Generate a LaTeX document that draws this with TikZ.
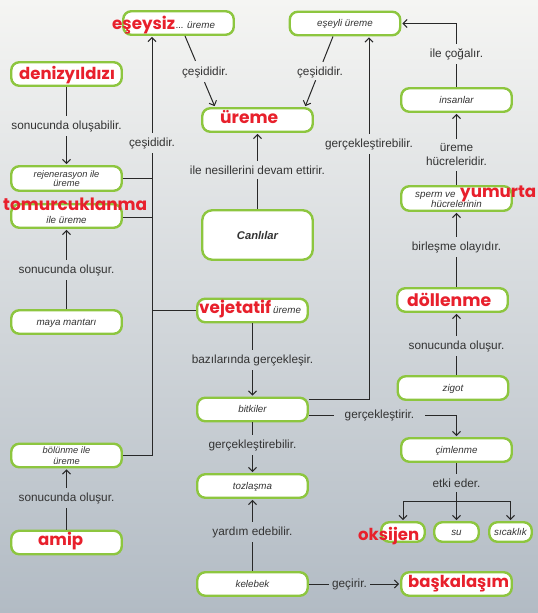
\documentclass[tikz,border=0pt]{standalone}
\usepackage{fontspec}
\setmainfont{Liberation Sans}
\newfontfamily\redfont{Poppins}
\usepackage{graphicx}
\usetikzlibrary{arrows.meta,calc}
\definecolor{boxg}{RGB}{141,198,63}
\definecolor{redc}{RGB}{232,32,44}
\definecolor{txt}{RGB}{51,51,51}
\definecolor{linec}{RGB}{40,40,40}
\definecolor{bgtop}{RGB}{245,245,243}
\definecolor{bgmid}{RGB}{214,218,213}
\definecolor{bgbot}{RGB}{178,187,196}
\newcommand\redw[2]{\resizebox{#1pt}{!}{\color{redc}\redfont\bfseries #2}}
\newcommand\dotblank[1]{\leaders\hbox to 2.5pt{\hss.\hss}\hskip #1pt\relax}
\newcommand\bxfont{\fontsize{9.8}{11}\selectfont\itshape}
\newcommand\lbfont{\fontsize{11.8}{14}\selectfont}
\tikzset{
 box/.style={draw=boxg, line width=2.4pt, fill=white, rounded corners=8pt, inner sep=0pt,
   minimum width=110.5pt, minimum height=23.5pt, font=\bxfont, text=txt},
 one/.style={text height=7pt, text depth=1pt},
 itx/.style={inner sep=0pt, font=\bxfont, text=txt},
 lbl/.style={font=\lbfont, text=txt, inner xsep=2pt, inner ysep=4.5pt},
 redt/.style={anchor=base west, inner sep=0pt},
 con/.style={draw=linec, line width=1pt},
 arr/.style={con, -{Straight Barb[length=4pt,width=8pt]}, shorten >=1pt}
}
\begin{document}
\begin{tikzpicture}[x=1pt,y=-1pt]
\shade[top color=bgtop, middle color=bgmid, bottom color=bgbot] (0,0) rectangle (538,613);
\useasboundingbox (0,0) rectangle (538,613);

% boxes
\node[box] (eseysiz) at (178.5,23) {};
\node[box,one] (eseyli) at (345,23.5) {eşeyli üreme};
\node[box] (deniz) at (66.5,74) {};
\node[box] (ureme) at (257.5,120) {};
\node[box,one] (insan) at (456.5,100) {insanlar};
\node[box,align=center,minimum height=24.5pt,font=\fontsize{9.3}{9}\selectfont\itshape] (rejen) at (66.5,178.5) {rejenerasyon ile\\üreme};
\node[box] (tomur) at (66.5,216) {};
\node[box,minimum height=24.5pt] (sperm) at (456.5,198.5) {};
\node[box,minimum height=49.5pt,rounded corners=10pt,font=\fontsize{11.2}{12}\selectfont\bfseries\itshape] (canli) at (257.5,235) {Canlılar};
\node[box,one] (maya) at (66.5,322) {maya mantarı};
\node[box] (vej) at (252.5,310.5) {};
\node[box] (doll) at (452.5,300) {};
\node[box,one] (zigot) at (453,388) {zigot};
\node[box,one] (bitki) at (252.5,409.5) {bitkiler};
\node[box,one] (ciml) at (456.5,450) {çimlenme};
\node[box,align=center,font=\fontsize{9.3}{11}\selectfont\itshape] (bolun) at (66.5,455.5) {bölünme ile\\üreme};
\node[box,one] (tozl) at (252.5,486) {tozlaşma};
\node[box,one,minimum width=43.5pt,minimum height=19.5pt] (oksi) at (403,532) {};
\node[box,one,minimum width=44.5pt,minimum height=19.5pt] (su) at (456.5,532) {su};
\node[box,one,minimum width=42.5pt,minimum height=19.5pt] (sicak) at (510.5,532) {sıcaklık};
\node[box] (amip) at (66.5,542.5) {};
\node[box,one] (kele) at (252.5,584) {kelebek};
\node[box] (bask) at (456.5,584) {};

% printed texts and visible parts of the blanks
\node[itx,anchor=base west] (tes) at (176,28) {\dotblank{8}\hspace{3pt}üreme};
\node[itx,anchor=base west] (bur) at (279,124) {\dotblank{13}};
\node[itx,anchor=base] (tile) at (66.5,223) {ile üreme};
\node[itx,anchor=base west] (tsp) at (415,197) {sperm ve};
\node[itx,anchor=base] (thu) at (456.5,207) {hücrelerinin};
\node[itx,anchor=base west] (bve) at (273,313.5) {üreme};
\node[itx,anchor=base west] (bam1) at (32,545.5) {\dotblank{5}};
\node[itx,anchor=base west] (bam2) at (84,545.5) {\dotblank{15}};

% red answers
\node[redt] (res) at (112,29.5) {\redw{63}{eşeysiz}};
\node[redt] (rdz) at (19,79) {\redw{96}{denizyıldızı}};
\node[redt] (rur) at (220,123.5) {\redw{58}{üreme}};
\node[redt] (rtm) at (3,210.5) {\redw{144}{tomurcuklanma}};
\node[redt] (ryu) at (460,197) {\redw{76}{yumurta}};
\node[redt] (rve) at (199,313) {\redw{72}{vejetatif}};
\node[redt] (rdo) at (407,306) {\redw{84}{döllenme}};
\node[redt] (ram) at (38,545) {\redw{45}{amip}};
\node[redt] (rok) at (358,540.5) {\redw{61}{oksijen}};
\node[redt] (rba) at (408,587) {\redw{101}{başkalaşım}};

% labels
\node[lbl] (L1) at (205,72) {çeşididir.};
\node[lbl] (L2) at (320,72) {çeşididir.};
\node[lbl] (L3) at (66.5,126) {sonucunda oluşabilir.};
\node[lbl] (L4) at (152,143) {çeşididir.};
\node[lbl] (L5) at (257.5,170) {ile nesillerini devam ettirir.};
\node[lbl] (L6) at (369,144) {gerçekleştirebilir.};
\node[lbl] (L7) at (456.5,54) {ile çoğalır.};
\node[lbl,align=center] (L8) at (456.5,155) {üreme\\hücreleridir.};
\node[lbl] (L9) at (66.5,270) {sonucunda oluşur.};
\node[lbl] (L10) at (456.5,247) {birleşme olayıdır.};
\node[lbl] (L11) at (252.5,360) {bazılarında gerçekleşir.};
\node[lbl] (L12) at (456.5,346) {sonucunda oluşur.};
\node[lbl,inner xsep=11pt] (L13) at (379.5,415.5) {gerçekleştirir.};
\node[lbl] (L14) at (252.5,445) {gerçekleştirebilir.};
\node[lbl] (L15) at (456.5,483) {etki eder.};
\node[lbl] (L16) at (66.5,498) {sonucunda oluşur.};
\node[lbl] (L17) at (252.5,532) {yardım edebilir.};
\node[lbl,inner xsep=3pt] (L18) at (349.5,584) {geçirir.};

% connectors
\coordinate (a1) at ([xshift=6.5pt]eseysiz.south);
\coordinate (b1) at ([xshift=-42.5pt]ureme.north);
\draw[con] (a1) -- ($(a1)!0.35!(b1)$);
\draw[arr] ($(a1)!0.65!(b1)$) -- (b1);
\coordinate (a2) at ([xshift=-12pt]eseyli.south);
\coordinate (b2) at ([xshift=47.5pt]ureme.north);
\draw[con] (a2) -- ($(a2)!0.36!(b2)$);
\draw[arr] ($(a2)!0.62!(b2)$) -- (b2);

\draw[con] (deniz) -- (L3); \draw[arr] (L3) -- (rejen);
\draw[con] (canli) -- (L5); \draw[arr] (L5) -- (ureme);
\draw[con] (insan) -- (L7); \draw[arr] (L7) |- (eseyli.east);
\draw[con] (sperm) -- (L8); \draw[arr] (L8) -- (insan);
\draw[con] ([xshift=4pt]doll.north) -- (L10); \draw[arr] (L10) -- (sperm);
\draw[con] ([xshift=3.5pt]zigot.north) -- (L12); \draw[arr] (L12) -- ([xshift=4pt]doll.south);
\draw[con] (vej) -- (L11); \draw[arr] (L11) -- (bitki);
\draw[con] (bitki) -- (L14); \draw[arr] (L14) -- (tozl);
\draw[con] (kele) -- (L17); \draw[arr] (L17) -- (tozl);
\draw[con] (kele) -- (L18); \draw[arr] (L18) -- (bask);
\draw[con] ([yshift=-6pt]bitki.east) -- (L13); \draw[arr] (L13) -| (ciml);
\draw[con] ([yshift=10pt]bitki.east) -| (L6); \draw[arr] (L6) -- (L6 |- eseyli.south);
\coordinate (br) at (456.5,501);
\draw[con] (ciml) -- (L15); \draw[con] (L15) -- (br);
\draw[arr] (br) -| (oksi); \draw[arr] (br) -- (su); \draw[arr] (br) -| (sicak);
\draw[con] (maya) -- (L9); \draw[arr] (L9) -- (tomur);
\draw[con] (amip) -- (L16); \draw[arr] (L16) -- (bolun);
\draw[con] (bolun.east) -| (L4); \draw[arr] (L4) -- (L4 |- eseysiz.south);
\draw[con] (rejen.east) -- (rejen.east -| L4);
\draw[con] ([yshift=-1pt]tomur.east) -- ([yshift=-1pt]tomur.east -| L4);
\draw[con] (vej.west) -- (vej.west -| L4);
\end{tikzpicture}
\end{document}
